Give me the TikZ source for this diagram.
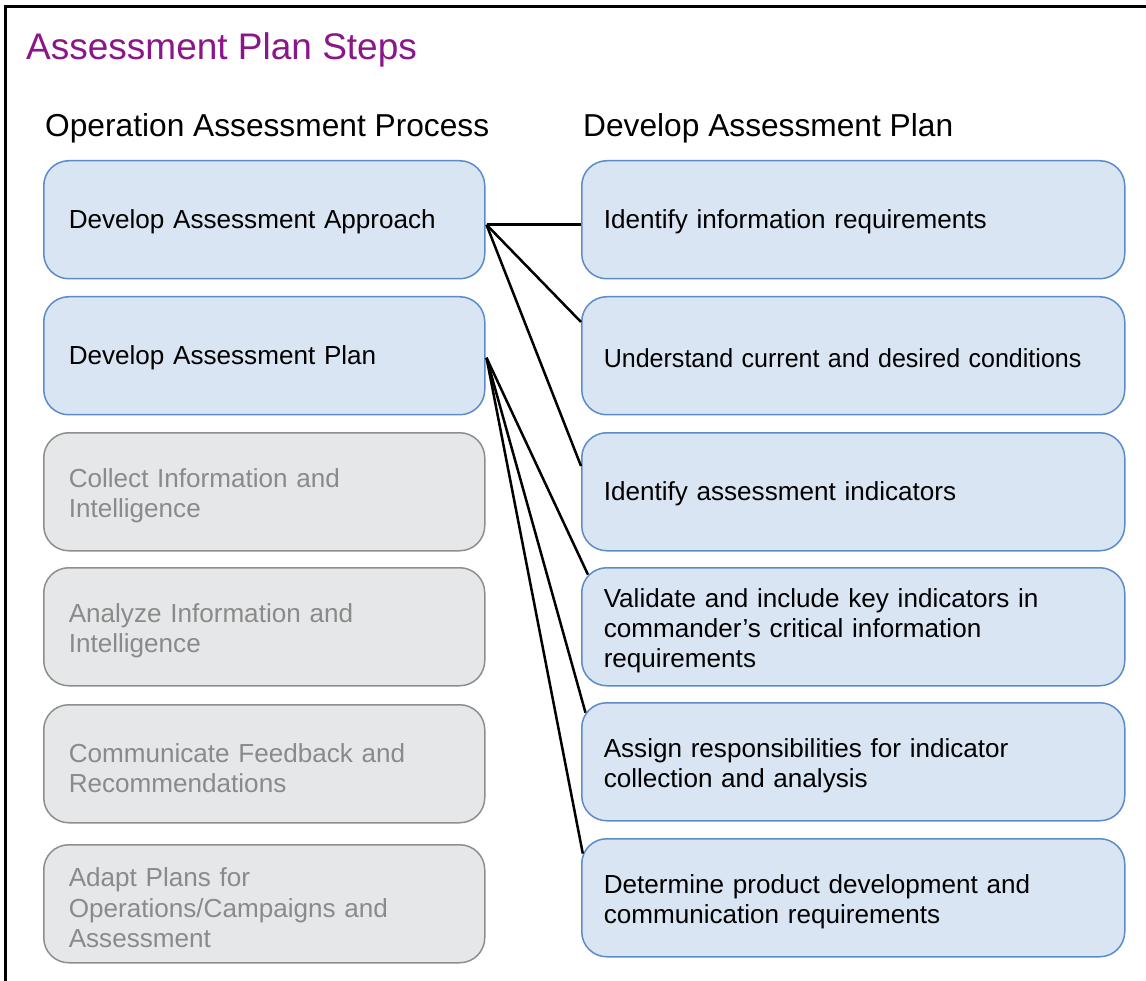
\documentclass[tikz,border=0pt]{standalone}
\usepackage{fontspec}
\usepackage{graphicx}
\setmainfont{Liberation Sans}
\definecolor{fillblue}{HTML}{DAE5F3}
\definecolor{boxblue}{HTML}{5B8BC9}
\definecolor{fillgray}{HTML}{E6E7E8}
\definecolor{boxgray}{HTML}{8E8E8E}
\definecolor{textgray}{HTML}{8A8A8A}
\definecolor{titlepurple}{HTML}{8A168A}
\newcommand\boxfont{\fontsize{26.1}{30.2}\selectfont\hyphenpenalty=10000 }
\newcommand\headfont{\fontsize{31.7}{36}\selectfont}
\newcommand\titlefont{\fontsize{37}{42}\selectfont}
\newcommand\topstrut{\rule{0pt}{27pt}}
\newcommand\onestrut{\rule{0pt}{23pt}}
\begin{document}
\begin{tikzpicture}[x=1pt,y=-1pt,
  basebox/.style={line width=1.5pt, rounded corners=25pt, anchor=north west,
    minimum height=118pt, align=left, font=\boxfont, inner ysep=0pt},
  bluebox/.style={basebox, draw=boxblue, fill=fillblue, text=black},
  graybox/.style={basebox, draw=boxgray, fill=fillgray, text=textgray},
  leftbox/.style={minimum width=441pt, text width=391pt, inner xsep=25pt},
  rightbox/.style={minimum width=543pt, text width=499pt, inner xsep=22pt},
  link/.style={line width=2.5pt, black},
  heading/.style={anchor=base west, inner sep=0pt}]
\useasboundingbox (0,0) rectangle (1146,981);
\fill[white] (0,0) rectangle (1146,981);
\begin{scope}
\clip (0,0) rectangle (1146,981);
\draw[line width=3pt] (5,1000) -- (5,7) -- (1160,7);
\end{scope}

\node[heading, font=\titlefont, text=titlepurple] (title) at (26,60) {Assessment Plan Steps};
\node[heading, font=\headfont] (h1) at (45,137) {Operation Assessment Process};
\node[heading, font=\headfont] (h2) at (583,137) {Develop Assessment Plan};

% left column
\node[bluebox, leftbox] (a1) at (43,160) {\onestrut Develop Assessment Approach};
\node[bluebox, leftbox] (a2) at (43,296) {\onestrut Develop Assessment Plan};
\node[graybox, leftbox] (a3) at (43,432) {\topstrut Collect Information and\\Intelligence};
\node[graybox, leftbox] (a4) at (43,567) {\topstrut Analyze Information and\\Intelligence};
\node[graybox, leftbox] (a5) at (43,704) {\topstrut Communicate Feedback and\\Recommendations};
\node[graybox, leftbox] (a6) at (43,844) {\topstrut Adapt Plans for\\Operations/Campaigns and\\Assessment};

% right column
\node[bluebox, rightbox] (r1) at (581,160) {\onestrut Identify information requirements};
\node[bluebox, rightbox] (r2) at (581,296) {\onestrut\scalebox{0.96}[1]{Understand current and desired conditions}};
\node[bluebox, rightbox] (r3) at (581,432) {\onestrut Identify assessment indicators};
\node[bluebox, rightbox] (r4) at (581,567) {\topstrut Validate and include key indicators in\\commander’s critical information\\requirements};
\node[bluebox, rightbox] (r5) at (581,702) {\topstrut Assign responsibilities for indicator\\collection and analysis};
\node[bluebox, rightbox] (r6) at (581,838) {\topstrut Determine product development and\\communication requirements};

% connector origins
\coordinate (s1) at ([xshift=1pt,yshift=-5pt]a1.east);
\coordinate (s2) at ([xshift=1pt,yshift=-2pt]a2.east);

\draw[link] (s1) -- ([yshift=-5pt]r1.west);
\draw[link] (s1) -- ([yshift=-26pt]r2.north west);
\draw[link] (s1) -- ([yshift=-34pt]r3.north west);
\draw[link] (s2) -- ([xshift=7pt,yshift=-7.7pt]r4.north west);
\draw[link] (s2) -- ([xshift=4.5pt,yshift=-10.7pt]r5.north west);
\draw[link] (s2) -- ([xshift=1.8pt,yshift=-15.6pt]r6.north west);
\end{tikzpicture}
\end{document}
